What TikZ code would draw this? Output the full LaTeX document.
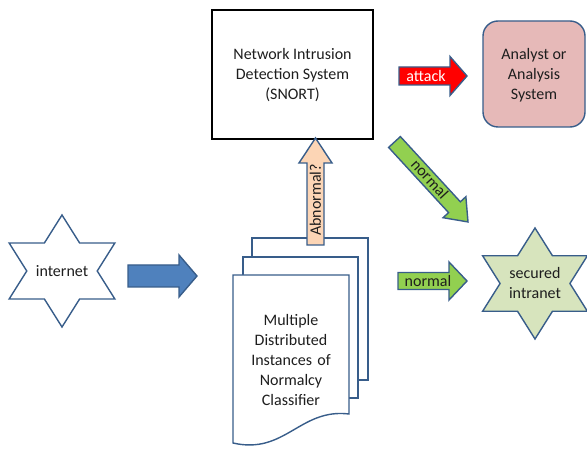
\documentclass[tikz,border=0pt]{standalone}
\usepackage{fontspec}
\setmainfont{Carlito}
\definecolor{edgeblue}{RGB}{56,93,138}
\definecolor{arrowblue}{RGB}{79,129,189}
\definecolor{attackred}{RGB}{255,0,0}
\definecolor{normgreen}{RGB}{146,208,80}
\definecolor{peach}{RGB}{252,213,181}
\definecolor{analystpink}{RGB}{230,185,184}
\definecolor{securegreen}{RGB}{215,228,189}
\definecolor{txt}{RGB}{30,30,30}
\newcommand{\blockarrow}[7]{%
  \begin{scope}[shift={#2}, rotate=#3]
    \draw[#1] (0,-#5/2) -- ({#4-#7},-#5/2) -- ({#4-#7},-#6/2) -- (#4,0)
      -- ({#4-#7},#6/2) -- ({#4-#7},#5/2) -- (0,#5/2) -- cycle;
  \end{scope}}
\newcommand{\hexstar}[3]{%
  \begin{scope}[shift={#1}, xscale=1.09]
    \draw[#3] (90:#2) -- (60:#2/1.732) -- (30:#2) -- (0:#2/1.732) -- (-30:#2)
      -- (-60:#2/1.732) -- (-90:#2) -- (-120:#2/1.732) -- (-150:#2)
      -- (180:#2/1.732) -- (150:#2) -- (120:#2/1.732) -- cycle;
  \end{scope}}
\begin{document}
\begin{tikzpicture}[x=1pt,y=-1pt,
  outl/.style={draw=edgeblue, line width=1.4pt, line join=miter},
  lbl/.style={text=txt, font=\fontsize{16}{20}\selectfont, align=center, inner sep=0pt},
  pagebox/.style={outl, fill=white}]
\useasboundingbox (0,0) rectangle (587,449);
% stars
\hexstar{(62,271)}{56}{outl, fill=white}
\node[lbl] (internet) at (62,271) {internet};
\hexstar{(535,283.5)}{55.5}{outl, fill=securegreen}
\node[lbl] (intranet) at (535,283.5) {secured\\intranet};
% NIDS box
\draw[black, line width=1.5pt, fill=white] (212,10) rectangle (373,139);
\node[lbl] (nids) at (292.5,75) {Network Intrusion\\Detection System\\(SNORT)};
% analyst box
\draw[outl, fill=analystpink, rounded corners=15pt] (483,21) rectangle (585,127);
\node[lbl] (analyst) at (534,75) {Analyst or\\Analysis\\System};
% documents
\draw[pagebox] (252,238) rectangle (368,380);
\draw[pagebox] (243,257) rectangle (358,398);
\draw[pagebox] (233,275) -- (349,275) -- (349,414)
  .. controls (300,408) and (285,455) .. (233,443) -- cycle;
\node[lbl, text width=110pt] (classifier) at (291,360) {Multiple\\Distributed\\Instances of\\Normalcy\\Classifier};
% arrows
\blockarrow{outl, fill=arrowblue}{(128,276)}{0}{69}{22}{42}{18}
\blockarrow{outl, fill=peach}{(315.5,245)}{90}{107}{17}{33}{25}
\node[lbl, rotate=90] (abn) at (315.5,200) {Abnormal?};
\blockarrow{outl, fill=attackred}{(399,76)}{0}{68}{18}{39}{17}
\node[lbl, text=white] (attack) at (426,76) {attack};
\blockarrow{outl, fill=normgreen}{(398,281)}{0}{69}{17}{38}{18}
\node[lbl] (normal1) at (428,281) {normal};
\blockarrow{outl, fill=normgreen}{(394.5,142)}{-47.4}{108.6}{16}{31}{20}
\node[lbl, rotate=-47.4] (normal2) at (430,179) {normal};
\end{tikzpicture}
\end{document}
